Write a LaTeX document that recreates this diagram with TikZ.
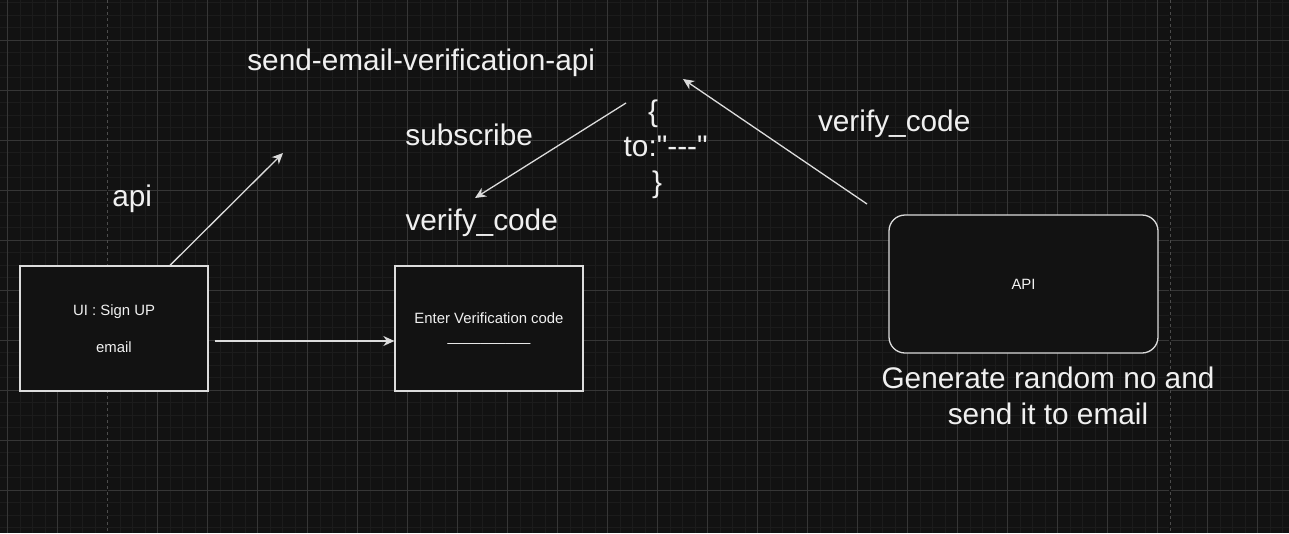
\documentclass[tikz,border=0pt]{standalone}
\usepackage{fontspec}
\setmainfont{Liberation Sans}
\newfontfamily\rawsans{Liberation Sans}[Ligatures=Common]
\usetikzlibrary{arrows.meta}
\definecolor{bg}{HTML}{121212}
\definecolor{gridminor}{HTML}{1C1C1C}
\definecolor{gridmajor}{HTML}{363636}
\definecolor{pagebreak}{HTML}{4C4C4C}
\definecolor{ink}{HTML}{F0F0F0}
\definecolor{strokecol}{HTML}{DCDCDC}
\newcommand\dgsmall{\fontsize{14.9}{18.2}\selectfont}
\newcommand\dglarge{\fontsize{29.8}{36}\selectfont}
\begin{document}
\begin{tikzpicture}[x=1pt,y=-1pt,
  box/.style={draw=strokecol, fill=bg, line width=1.3pt, inner sep=0pt,
    font=\dgsmall, text=ink, align=center},
  bigtext/.style={text=ink, font=\dglarge, inner sep=0pt, anchor=base},
  conn/.style={draw=strokecol, line width=1.3pt,
    -{Stealth[length=11pt,width=10pt,inset=3.5pt]}},
  minorline/.style={draw=gridminor, line width=1pt},
  majorline/.style={draw=gridmajor, line width=1pt},
]
% background and grid
\fill[bg] (0,0) rectangle (1289,533);
\useasboundingbox (0,0) rectangle (1289,533);
\foreach \i in {0,...,102} \draw[minorline] ({7.5+12.5*\i},0) -- ({7.5+12.5*\i},533);
\foreach \j in {0,...,42} \draw[minorline] (0,{2.5+12.5*\j}) -- (1289,{2.5+12.5*\j});
\foreach \i in {0,...,25} \draw[majorline] ({7.5+50*\i},0) -- ({7.5+50*\i},533);
\foreach \j in {0,...,9} \draw[majorline] (0,{40+50*\j}) -- (1289,{40+50*\j});
\foreach \x in {107.5,1170} {
  \draw[draw=bg, line width=1.2pt] (\x,0) -- (\x,533);
  \draw[draw=pagebreak, line width=1pt, dash pattern=on 3pt off 3pt] (\x,0) -- (\x,533);
}

% boxes
\node[box, minimum width=188pt, minimum height=125pt] (signup) at (114,328.5)
  {UI : Sign UP\\\mbox{}\\email};
\node[box, minimum width=188pt, minimum height=125pt] (enter) at (489,328.5)
  {Enter Verification code\\\_\_\_\_\_\_\_\_\_\_};
\node[box, rounded corners=16pt, minimum width=269pt, minimum height=138pt] (apibox) at (1023.5,284)
  {API};

% labels
\node[bigtext] (title) at (421.2,70) {send-email-verification-api};
\node[bigtext] (subscribe) at (469.2,145) {subscribe};
\node[bigtext] (verifyL) at (481.7,230) {verify\_code};
\node[bigtext] (apilabel) at (132.2,206.7) {api};
\node[bigtext] (verifyR) at (894.2,131.7) {verify\_code};
\node[bigtext] (braceOpen) at (653,121) {\{};
\node[bigtext] (payload) at (665.7,156.7) {\rawsans to:"---"};
\node[bigtext] (braceClose) at (657.2,192) {\}};
\node[bigtext, anchor=north, align=center] (generate) at (1048,366.7)
  {Generate random no and\\send it to email};

% connectors
\coordinate (apiEnd) at (283,153);
\coordinate (subStart) at (626,103);
\coordinate (subEnd) at (475,198);
\coordinate (vcStart) at (867,204);
\coordinate (vcEnd) at (683,79);
\draw[conn] ([xshift=56pt]signup.north) -- (apiEnd);
\draw[conn] ([xshift=6pt,yshift=-12.5pt]signup.east) -- ([yshift=-12.5pt]enter.west);
\draw[conn] (subStart) -- (subEnd);
\draw[conn] (vcStart) -- (vcEnd);
\end{tikzpicture}
\end{document}
